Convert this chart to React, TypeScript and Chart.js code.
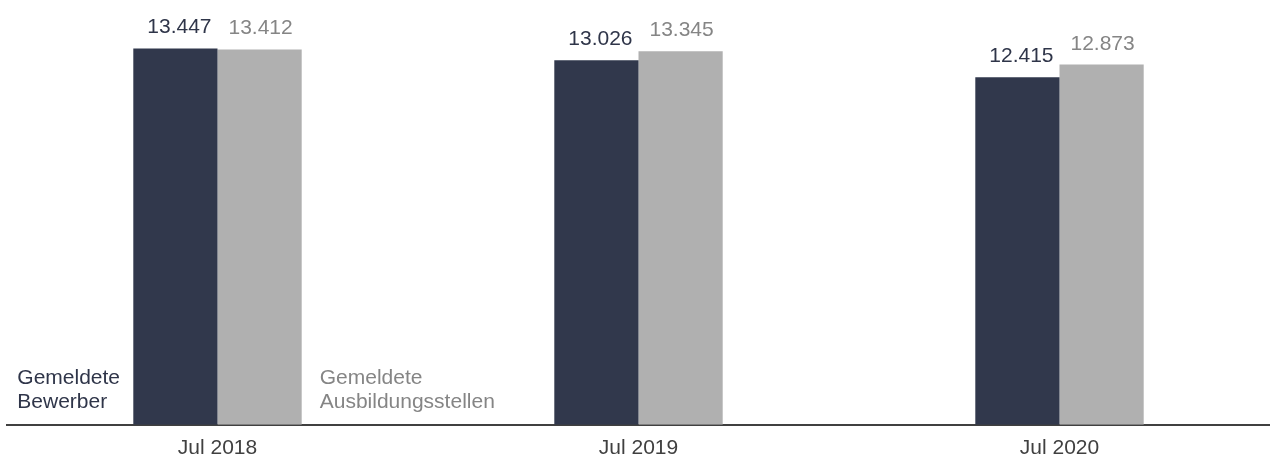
import React, { useEffect, useRef } from "react";
import { Chart, registerables } from "chart.js";

Chart.register(...registerables);

const categories = ["Jul 2018", "Jul 2019", "Jul 2020"];
const bewerber = [13447, 13026, 12415];
const stellen = [13412, 13345, 12873];
const seriesNames = [["Gemeldete", "Bewerber"], ["Gemeldete", "Ausbildungsstellen"]];

const DARK = "#31384c";
const GREY = "#b0b0b0";
const DARK_TEXT = "#2f3549";
const GREY_TEXT = "#858585";
const FONT = "'Liberation Sans', Arial, Helvetica, sans-serif";

const fmt = (v: number) => v.toLocaleString("de-DE");

const labelPlugin = {
  id: "valueLabels",
  afterDatasetsDraw(chart: any) {
    const ctx = chart.ctx;
    ctx.save();
    ctx.font = `21px ${FONT}`;
    chart.data.datasets.forEach((ds: any, di: number) => {
      const meta = chart.getDatasetMeta(di);
      ctx.fillStyle = di === 0 ? DARK_TEXT : GREY_TEXT;
      ctx.textAlign = "center";
      ctx.textBaseline = "alphabetic";
      meta.data.forEach((bar: any, i: number) => {
        ctx.fillText(fmt(ds.data[i]), bar.x + (di === 0 ? 4 : 1), bar.y - 15);
      });
    });
    // series name labels next to first group
    const b0 = chart.getDatasetMeta(0).data[0];
    const b1 = chart.getDatasetMeta(1).data[0];
    const base = chart.chartArea.bottom;
    ctx.textAlign = "left";
    ctx.fillStyle = DARK_TEXT;
    const x0 = b0.x - b0.width / 2 - 116;
    seriesNames[0].forEach((t, k) => ctx.fillText(t, x0, base - 41 + k * 24));
    ctx.fillStyle = GREY_TEXT;
    const x1 = b1.x + b1.width / 2 + 18;
    seriesNames[1].forEach((t, k) => ctx.fillText(t, x1, base - 41 + k * 24));
    ctx.restore();
  },
};

export default function App() {
  const ref = useRef<HTMLCanvasElement>(null);
  useEffect(() => {
    if (!ref.current) return;
    const chart = new Chart(ref.current, {
      type: "bar",
      data: {
        labels: categories,
        datasets: [
          {
            label: "Gemeldete Bewerber",
            data: bewerber,
            backgroundColor: DARK,
            categoryPercentage: 0.4,
            barPercentage: 1.0,
          },
          {
            label: "Gemeldete Ausbildungsstellen",
            data: stellen,
            backgroundColor: GREY,
            categoryPercentage: 0.4,
            barPercentage: 1.0,
          },
        ],
      },
      options: {
        animation: false,
        responsive: false,
        maintainAspectRatio: false,
        layout: { padding: { left: 7, right: 0, top: 5, bottom: -12 } },
        plugins: { legend: { display: false }, tooltip: { enabled: false } },
        scales: {
          x: {
            grid: { display: false, drawTicks: false },
            border: { display: true, color: "#404040", width: 2 },
            ticks: {
              color: "#404040",
              font: { family: FONT, size: 21 },
              padding: 11,
            },
          },
          y: {
            display: false,
            min: 0,
            max: 15000,
          },
        },
      },
      plugins: [labelPlugin],
    });
    return () => chart.destroy();
  }, []);
  return (
    <div style={{ position: "absolute", left: 0, top: 0, width: 1270, height: 460 }}>
      <canvas ref={ref} width={1270} height={460} style={{ width: 1270, height: 460 }} />
    </div>
  );
}
